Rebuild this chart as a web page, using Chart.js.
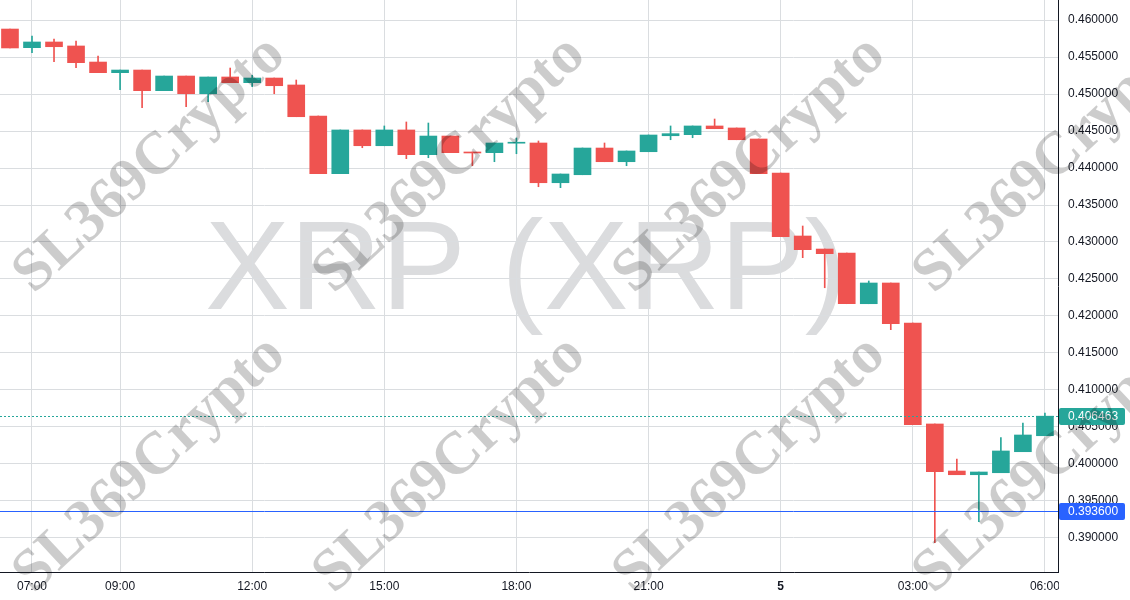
<!DOCTYPE html>
<html>
<head>
<meta charset="utf-8">
<script src="https://cdn.jsdelivr.net/npm/chart.js@4.4.1/dist/chart.umd.min.js"></script>
<style>
  html, body { margin: 0; padding: 0; background: #ffffff; }
  #wrap { width: 1130px; height: 600px; position: relative; }
</style>
</head>
<body>
<div id="wrap"><canvas id="chart"></canvas></div>
<script>
// 30 minute candles, hours counted from midnight of day 4 (24 = "5")
var times = [6.5, 7, 7.5, 8, 8.5, 9, 9.5, 10, 10.5, 11, 11.5, 12,
             12.5, 13, 13.5, 14, 14.5, 15, 15.5, 16, 16.5, 17, 17.5, 18,
             18.5, 19, 19.5, 20, 20.5, 21, 21.5, 22, 22.5, 23, 23.5, 24,
             24.5, 25, 25.5, 26, 26.5, 27, 27.5, 28, 28.5, 29, 29.5, 30];

var opens  = [0.45878, 0.45626, 0.45703, 0.45649, 0.45432, 0.45288, 0.45324, 0.45045, 0.45243, 0.45004, 0.45230, 0.45153,
              0.45216, 0.45122, 0.44703, 0.43923, 0.44514, 0.44301, 0.44514, 0.44180, 0.44432, 0.44216, 0.44207, 0.44335,
              0.44338, 0.43801, 0.43909, 0.44270, 0.44085, 0.44220, 0.44436, 0.44450, 0.44568, 0.44541, 0.44392, 0.43932,
              0.43081, 0.42905, 0.42851, 0.42166, 0.42446, 0.41905, 0.40541, 0.39905, 0.39855, 0.39882, 0.40166, 0.40382];
var highs  = [0.45878, 0.45784, 0.45743, 0.45716, 0.45514, 0.45324, 0.45324, 0.45243, 0.45243, 0.45230, 0.45351, 0.45253,
              0.45216, 0.45189, 0.44703, 0.44514, 0.44514, 0.44568, 0.44622, 0.44608, 0.44432, 0.44216, 0.44338, 0.44405,
              0.44365, 0.43919, 0.44270, 0.44338, 0.44230, 0.44446, 0.44568, 0.44568, 0.44662, 0.44541, 0.44392, 0.43932,
              0.43216, 0.42905, 0.42851, 0.42473, 0.42446, 0.41905, 0.40541, 0.40068, 0.39892, 0.40356, 0.40554, 0.40689];
var lows   = [0.45622, 0.45558, 0.45436, 0.45355, 0.45288, 0.45058, 0.44815, 0.45045, 0.44828, 0.44896, 0.45153, 0.45099,
              0.45004, 0.44693, 0.43923, 0.43923, 0.44274, 0.44301, 0.44126, 0.44139, 0.44207, 0.44031, 0.44085, 0.44193,
              0.43747, 0.43734, 0.43909, 0.44085, 0.44031, 0.44220, 0.44382, 0.44409, 0.44531, 0.44382, 0.43923, 0.43072,
              0.42788, 0.42382, 0.42166, 0.42166, 0.41815, 0.40531, 0.38937, 0.39855, 0.39220, 0.39882, 0.40166, 0.40382];
var closes = [0.45622, 0.45703, 0.45639, 0.45423, 0.45288, 0.45324, 0.45045, 0.45243, 0.45004, 0.45230, 0.45153, 0.45216,
              0.45112, 0.44693, 0.43923, 0.44514, 0.44301, 0.44514, 0.44180, 0.44432, 0.44207, 0.44203, 0.44338, 0.44340,
              0.43801, 0.43919, 0.44270, 0.44085, 0.44230, 0.44446, 0.44464, 0.44568, 0.44531, 0.44382, 0.43923, 0.43072,
              0.42896, 0.42842, 0.42166, 0.42446, 0.41896, 0.40531, 0.39896, 0.39855, 0.39892, 0.40176, 0.40392, 0.406463];

var xTickHours  = [7, 9, 12, 15, 18, 21, 24, 27, 30];
var xTickLabels = ['07:00', '09:00', '12:00', '15:00', '18:00', '21:00', '5', '03:00', '06:00'];
var yTicks = [0.390, 0.395, 0.400, 0.405, 0.410, 0.415, 0.420, 0.425, 0.430, 0.435, 0.440, 0.445, 0.450, 0.455, 0.460];

var lastPrice = 0.406463;
var markPrice = 0.3936;

var UP = '#26a69a', DOWN = '#ef5350';

function candleColor(i) { return closes[i] >= opens[i] ? UP : DOWN; }

var bodies = times.map(function (t, i) { return { x: t, y: [opens[i], closes[i]] }; });
var wicks  = times.map(function (t, i) { return { x: t, y: [lows[i], highs[i]] }; });

// background watermark + overlay lines / labels / watermark text
var decorations = {
  id: 'decorations',
  beforeDraw: function (chart) {
    var c = chart.ctx;
    c.save();
    c.fillStyle = '#dbdcde';
    c.font = '127px "Liberation Sans", Arial, sans-serif';
    c.textAlign = 'center';
    c.textBaseline = 'alphabetic';
    c.fillText('XRP (XRP)', 526, 309);
    c.restore();
  },
  afterDraw: function (chart) {
    var c = chart.ctx, area = chart.chartArea, y = chart.scales.y;
    c.save();
    // cut off the x label that runs under the price scale
    c.fillStyle = '#ffffff';
    c.fillRect(area.right + 1, area.bottom + 1, chart.width - area.right, chart.height - area.bottom);

    var yl = Math.round(y.getPixelForValue(lastPrice)) + 0.5;
    c.strokeStyle = UP;
    c.lineWidth = 1;
    c.setLineDash([2, 2]);
    c.beginPath(); c.moveTo(area.left, yl); c.lineTo(area.right, yl); c.stroke();

    var ym = Math.round(y.getPixelForValue(markPrice)) + 0.5;
    c.strokeStyle = '#2962ff';
    c.setLineDash([]);
    c.beginPath(); c.moveTo(area.left, ym); c.lineTo(area.right, ym); c.stroke();

    function tag(val, py, color) {
      c.fillStyle = color;
      c.beginPath();
      c.roundRect(area.right + 1, py - 8.5, 66, 17, 2);
      c.fill();
      c.fillStyle = '#ffffff';
      c.font = '12px "Liberation Sans", Arial, sans-serif';
      c.textAlign = 'left';
      c.textBaseline = 'middle';
      c.fillText(val.toFixed(6), area.right + 10, py + 0.5);
    }
    tag(lastPrice, yl, UP);
    tag(markPrice, ym, '#2962ff');

    // repeated diagonal watermark
    c.fillStyle = 'rgba(0,0,0,0.2)';
    c.font = 'bold 60px "Liberation Serif", "DejaVu Serif", serif';
    c.textAlign = 'center';
    c.textBaseline = 'middle';
    for (var j = 0; j < 2; j++) {
      for (var k = 0; k < 4; k++) {
        c.save();
        c.translate(150 + 300 * k, 165 + 300 * j);
        c.rotate(-43 * Math.PI / 180);
        c.fillText('SL369Crypto', 0, 0);
        c.restore();
      }
    }
    c.restore();
  }
};

var ctx = document.getElementById('chart').getContext('2d');
var chart = new Chart(ctx, {
  type: 'bar',
  data: {
    datasets: [{
      label: 'body',
      data: bodies,
      backgroundColor: bodies.map(function (d, i) { return candleColor(i); }),
      barThickness: 17,
      minBarLength: 1,
      borderWidth: 0,
      grouped: false
    }, {
      label: 'wick',
      data: wicks,
      backgroundColor: wicks.map(function (d, i) { return candleColor(i); }),
      barThickness: 1,
      borderWidth: 0,
      grouped: false
    }]
  },
  plugins: [decorations],
  options: {
    responsive: true,
    maintainAspectRatio: false,
    animation: false,
    layout: { padding: 0 },
    plugins: { legend: { display: false }, tooltip: { enabled: false } },
    scales: {
      x: {
        type: 'linear',
        offset: false,
        min: 6.2734,
        max: 30.297,
        afterBuildTicks: function (s) { s.ticks = xTickHours.map(function (v) { return { value: v }; }); },
        afterFit: function (s) { s.height = 28; s.paddingLeft = 0; s.paddingRight = 0; },
        grid: { color: '#dadde0', drawTicks: false, offset: false },
        border: { display: true, color: '#131722', width: 1 },
        ticks: {
          autoSkip: false,
          maxRotation: 0,
          padding: 7,
          color: '#131722',
          font: function (c) {
            return { family: '"Liberation Sans", Arial, sans-serif', size: 12, weight: c.index === 6 ? 'bold' : 'normal' };
          },
          callback: function (v, i) { return xTickLabels[i]; }
        }
      },
      y: {
        position: 'right',
        min: 0.385405,
        max: 0.462703,
        afterBuildTicks: function (s) { s.ticks = yTicks.map(function (v) { return { value: v }; }); },
        afterFit: function (s) { s.width = 72; s.paddingTop = 0; s.paddingBottom = 0; },
        grid: { color: '#dadde0', drawTicks: false },
        border: { display: true, color: '#131722', width: 1 },
        ticks: {
          padding: 10,
          color: '#131722',
          font: { family: '"Liberation Sans", Arial, sans-serif', size: 12 },
          callback: function (v) { return Number(v).toFixed(6); }
        }
      }
    }
  }
});
</script>
</body>
</html>
